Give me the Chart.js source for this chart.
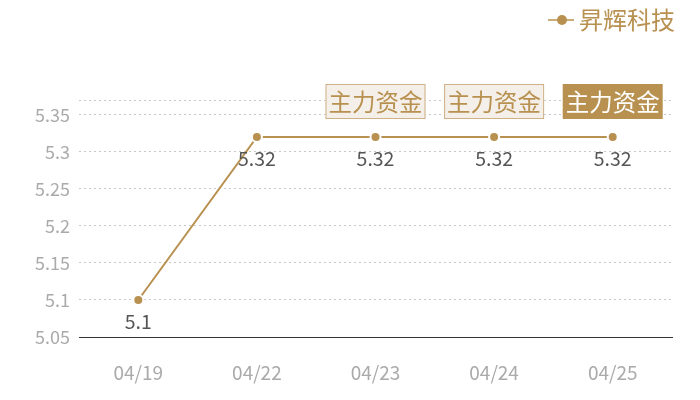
<!DOCTYPE html>
<html>
<head>
<meta charset="utf-8">
<script src="https://cdn.jsdelivr.net/npm/chart.js@4/dist/chart.umd.min.js"></script>
<style>
    html, body { margin: 0; padding: 0; background: #fff; }
    #wrap { width: 700px; height: 400px; }
</style>
</head>
<body>
<div id="wrap"><canvas id="priceChart"></canvas></div>
<script>
const dates = ['04/19', '04/22', '04/23', '04/24', '04/25'];
const prices = [5.1, 5.32, 5.32, 5.32, 5.32];
const yTicks = [5.05, 5.1, 5.15, 5.2, 5.25, 5.3, 5.35];
const yMin = 5.05;
const yMax = 5.37;
const markDates = ['04/23', '04/24', '04/25'];
const markLabel = '主力资金';
const seriesName = '昇辉科技';

const gold = '#b8904f';
const fontFamily = '"Noto Sans CJK SC", "Noto Sans", sans-serif';

function legendIcon() {
    const c = document.createElement('canvas');
    c.width = 26;
    c.height = 12;
    const g = c.getContext('2d');
    g.strokeStyle = gold;
    g.lineWidth = 1.5;
    g.beginPath();
    g.moveTo(0, 6);
    g.lineTo(26, 6);
    g.stroke();
    g.fillStyle = gold;
    g.beginPath();
    g.arc(14, 6, 5, 0, Math.PI * 2);
    g.fill();
    return c;
}

// value text under each point
const valueLabels = {
    id: 'valueLabels',
    afterDatasetsDraw(chart) {
        const ctx = chart.ctx;
        const meta = chart.getDatasetMeta(0);
        ctx.save();
        ctx.font = '19.5px ' + fontFamily;
        ctx.fillStyle = '#555555';
        ctx.textAlign = 'center';
        ctx.textBaseline = 'middle';
        meta.data.forEach((pt, i) => {
            ctx.fillText(String(prices[i]), pt.x, pt.y + 22);
        });
        ctx.restore();
    }
};

// "主力资金" tags along the top of the plot
const markTags = {
    id: 'markTags',
    afterDatasetsDraw(chart) {
        const ctx = chart.ctx;
        const x = chart.scales.x;
        const top = chart.chartArea.top;
        ctx.save();
        ctx.font = '23.5px ' + fontFamily;
        ctx.textAlign = 'center';
        ctx.textBaseline = 'middle';
        markDates.forEach((d, i) => {
            const cx = x.getPixelForValue(dates.indexOf(d));
            const w = 100, h = 35;
            const last = i === markDates.length - 1;
            ctx.fillStyle = last ? gold : '#f4efe8';
            ctx.fillRect(cx - w / 2, top - 16, w, h);
            if (!last) {
                ctx.strokeStyle = '#cfb185';
                ctx.lineWidth = 1;
                ctx.strokeRect(cx - w / 2 + 0.5, top - 16 + 0.5, w - 1, h - 1);
            }
            ctx.fillStyle = last ? '#ffffff' : gold;
            ctx.fillText(markLabel, cx, top + 2);
        });
        ctx.restore();
    }
};

// keep the plot top at 100px below the legend, legend nudged to the right edge
const legendSpace = {
    id: 'legendSpace',
    afterInit(chart) {
        const legend = chart.legend;
        const fit = legend.fit;
        legend.fit = function () {
            fit.call(this);
            this.height = 100;
        };
    },
    afterLayout(chart) {
        chart.legend.left += 11;
        chart.legend.right += 11;
    }
};

const ctx = document.getElementById('priceChart').getContext('2d');
new Chart(ctx, {
    type: 'line',
    data: {
        labels: dates,
        datasets: [{
            label: seriesName,
            data: prices,
            borderColor: gold,
            backgroundColor: gold,
            borderWidth: 2,
            pointRadius: 5,
            pointHoverRadius: 5,
            pointBackgroundColor: gold,
            pointBorderColor: '#ffffff',
            pointBorderWidth: 2,
            tension: 0
        }]
    },
    options: {
        responsive: true,
        maintainAspectRatio: false,
        animation: false,
        layout: {
            padding: { top: 0, right: 28, left: 0, bottom: 0 }
        },
        plugins: {
            legend: {
                position: 'top',
                align: 'end',
                labels: {
                    usePointStyle: true,
                    pointStyle: legendIcon(),
                    pointStyleWidth: 12,
                    color: gold,
                    font: { family: fontFamily, size: 24 },
                    padding: 8
                }
            },
            tooltip: { enabled: false }
        },
        scales: {
            x: {
                offset: true,
                grid: { display: false, drawTicks: false },
                border: { display: true, color: '#333333', width: 1 },
                ticks: {
                    color: '#aaaaaa',
                    padding: 24,
                    font: { family: fontFamily, size: 19 }
                },
                afterFit(scale) { scale.height = 63; }
            },
            y: {
                min: yMin,
                max: yMax,
                border: { display: false, dash: [2, 3] },
                grid: {
                    color: ctx => ctx.tick && ctx.tick.value === yMin ? 'rgba(0,0,0,0)' : '#c8c8c8',
                    drawTicks: false
                },
                afterBuildTicks(scale) {
                    scale.ticks = yTicks.concat([yMax]).map(v => ({ value: v }));
                },
                ticks: {
                    color: '#aaaaaa',
                    padding: 9,
                    font: { family: fontFamily, size: 18 },
                    callback: v => (v === yMax ? '' : String(+v.toFixed(2)))
                },
                afterFit(scale) { scale.width = 79; }
            }
        }
    },
    plugins: [valueLabels, markTags, legendSpace]
});
</script>
</body>
</html>
